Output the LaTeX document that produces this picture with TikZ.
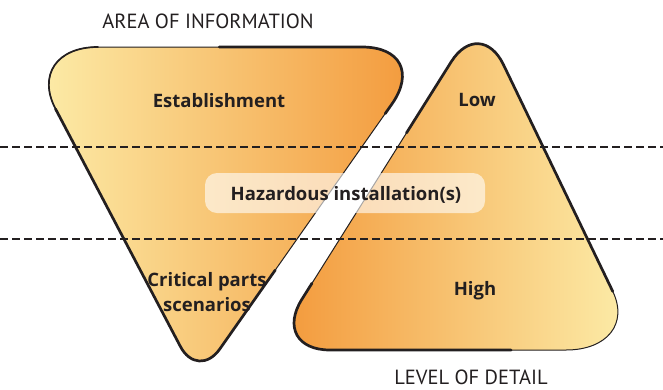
\documentclass[tikz,border=0pt]{standalone}
\usepackage{fontspec}
\setmainfont{PT Sans}
\newfontfamily\labelfont{Open Sans}
\usetikzlibrary{calc}
\definecolor{paleyellow}{RGB}{252,236,168}
\definecolor{deeporange}{RGB}{243,154,60}
\definecolor{inktext}{RGB}{35,31,32}

\tikzset{
  funnel/.style={draw=inktext, line width=1pt},
  thickrim/.style={draw=inktext, line width=2.7pt, line cap=round},
  midrim/.style={draw=inktext, line width=1.7pt, line cap=round},
  levelline/.style={draw=inktext, line width=2.3pt, dash pattern=on 8pt off 4pt},
  boldlabel/.style={font=\labelfont\fontsize{18.5}{25}\selectfont\bfseries, text=inktext, align=center},
  axislabel/.style={font=\fontsize{20.5}{22}\selectfont, text=inktext}
}

\begin{document}
\begin{tikzpicture}[x=1pt,y=-1pt]
  \useasboundingbox (0,0) rectangle (663,389);

  % area of information (inverted triangle)
  \coordinate (ia) at (23,47);
  \coordinate (ib) at (432,47);
  \coordinate (ic) at (198,380);
  \coordinate (iatop) at ($(ia)!75pt!(ib)$);
  \coordinate (iaside) at ($(ia)!70pt!(ic)$);
  \coordinate (ibtop) at ($(ib)!70pt!(ia)$);
  \coordinate (ibside) at ($(ib)!70pt!(ic)$);
  \coordinate (icright) at ($(ic)!38pt!(ib)$);
  \coordinate (icleft) at ($(ic)!38pt!(ia)$);
  \shadedraw[funnel, left color=paleyellow, right color=deeporange]
    (iatop) -- (ibtop) .. controls ($(ibtop)!0.55!(ib)$) and ($(ibside)!0.55!(ib)$) .. (ibside)
    -- (icright) .. controls ($(icright)!0.55!(ic)$) and ($(icleft)!0.55!(ic)$) .. (icleft)
    -- (iaside) .. controls ($(iaside)!0.55!(ia)$) and ($(iatop)!0.55!(ia)$) .. (iatop) -- cycle;
  \draw[thickrim] ($(ib)!0.67!(ic)$) -- (icright)
    .. controls ($(icright)!0.55!(ic)$) and ($(icleft)!0.55!(ic)$) .. (icleft) -- (iaside);
  \draw[midrim] (iaside) .. controls ($(iaside)!0.55!(ia)$) and ($(iatop)!0.55!(ia)$) .. (iatop);
  \draw[thickrim] ($(ia)!0.48!(ib)$) -- (ibtop)
    .. controls ($(ibtop)!0.55!(ib)$) and ($(ibside)!0.55!(ib)$) .. (ibside) -- ($(ib)!0.2!(ic)$);

  % level of detail (upright triangle)
  \coordinate (jd) at (480,16);
  \coordinate (je) at (641,350);
  \coordinate (jf) at (270,350);
  \coordinate (jdleft) at ($(jd)!54pt!(jf)$);
  \coordinate (jdright) at ($(jd)!54pt!(je)$);
  \coordinate (jeside) at ($(je)!65pt!(jd)$);
  \coordinate (jebottom) at ($(je)!75pt!(jf)$);
  \coordinate (jfbottom) at ($(jf)!60pt!(je)$);
  \coordinate (jfside) at ($(jf)!60pt!(jd)$);
  \shadedraw[funnel, left color=deeporange, right color=paleyellow]
    (jdright) -- (jeside) .. controls ($(jeside)!0.55!(je)$) and ($(jebottom)!0.55!(je)$) .. (jebottom)
    -- (jfbottom) .. controls ($(jfbottom)!0.55!(jf)$) and ($(jfside)!0.55!(jf)$) .. (jfside)
    -- (jdleft) .. controls ($(jdleft)!0.55!(jd)$) and ($(jdright)!0.55!(jd)$) .. (jdright) -- cycle;
  \draw[thickrim] ($(jd)!0.35!(jf)$) -- (jdleft)
    .. controls ($(jdleft)!0.55!(jd)$) and ($(jdright)!0.55!(jd)$) .. (jdright) -- (jeside);
  \draw[thickrim] ($(je)!0.35!(jf)$) -- (jfbottom)
    .. controls ($(jfbottom)!0.55!(jf)$) and ($(jfside)!0.55!(jf)$) .. (jfside) -- ($(jf)!0.2!(jd)$);

  % level borders
  \coordinate (upperleft) at (0,147);
  \coordinate (upperright) at (663,147);
  \coordinate (lowerleft) at (0,239);
  \coordinate (lowerright) at (663,239);
  \draw[levelline] (upperleft) -- (upperright);
  \draw[levelline] (lowerleft) -- (lowerright);

  % highlight behind the middle label
  \fill[white, fill opacity=0.6, rounded corners=12pt] (205,173) rectangle (485,213);

  \node[axislabel] (areainfo) at (208,21) {AREA OF INFORMATION};
  \node[axislabel] (leveldetail) at (471,377) {LEVEL OF DETAIL};

  \node[boldlabel] (establishment) at (219,101) {Establishment};
  \node[boldlabel] (hazard) at (346,195) {Hazardous installation(s)};
  \node[boldlabel] (critical) at (207,292) {Critical parts\\scenarios};
  \node[boldlabel] (low) at (477,100) {Low};
  \node[boldlabel] (high) at (475,291) {High};
\end{tikzpicture}
\end{document}
